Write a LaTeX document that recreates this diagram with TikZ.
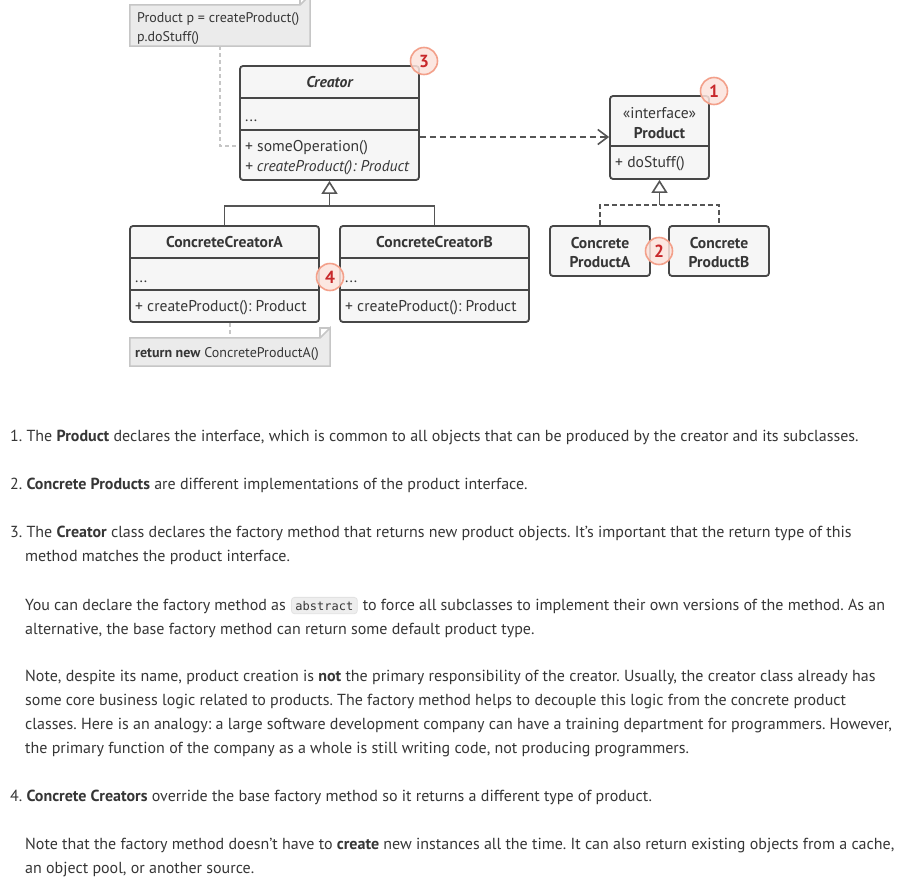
\documentclass[tikz,border=0pt]{standalone}
\usepackage{fontspec}
\setmainfont{PT Sans}
\newfontfamily\codefont{DejaVu Sans Mono}
\usetikzlibrary{arrows.meta,positioning}

\definecolor{ink}{HTML}{363636}
\definecolor{boxline}{HTML}{474747}
\definecolor{boxfill}{HTML}{F6F6F6}
\definecolor{linkgray}{HTML}{555555}
\definecolor{notefill}{HTML}{EBEBEB}
\definecolor{noteline}{HTML}{C6C6C6}
\definecolor{badgeline}{HTML}{F3A08A}
\definecolor{badgefill}{HTML}{FCE3DC}
\definecolor{badgetext}{HTML}{C8282B}
\definecolor{codefill}{HTML}{EEEEEE}
\definecolor{codeline}{HTML}{E2E2E2}

\begin{document}
\frenchspacing
\begin{tikzpicture}[x=1pt,y=-1pt,
  umlbox/.style={draw=boxline, fill=boxfill, line width=1.8pt, rounded corners=3pt, inner sep=0pt},
  divider/.style={draw=boxline, line width=1.8pt},
  lbl/.style={font=\fontsize{15.6}{18}\selectfont, text=ink, inner sep=0pt},
  lblbold/.style={lbl, font=\fontsize{15.6}{18}\selectfont\bfseries},
  notetxt/.style={font=\fontsize{14}{16}\selectfont, text=ink, inner sep=0pt},
  noteshape/.style={fill=notefill, draw=noteline, line width=1.5pt},
  notelink/.style={draw=noteline, line width=1.5pt, dash pattern=on 4pt off 3pt},
  depends/.style={draw=linkgray, line width=1.6pt, dash pattern=on 6pt off 4pt, -{Straight Barb[length=10pt,width=15pt,line width=1.6pt]}},
  extends/.style={draw=linkgray, line width=1.6pt, -{Triangle[open,length=13pt,width=16pt,line width=1.6pt,fill=white]}},
  realizes/.style={draw=linkgray, line width=1.6pt, dash pattern=on 5pt off 3pt},
  badge/.style={circle, minimum size=27pt, inner sep=0pt, draw=badgeline, line width=1.6pt, fill=badgefill, fill opacity=0.85, text opacity=1, text=badgetext, font=\fontsize{17.5}{17.5}\selectfont\bfseries},
  body/.style={font=\fontsize{16}{19}\selectfont, text=ink, inner sep=0pt, anchor=base west},
  codebox/.style={fill=codefill, draw=codeline, line width=0.8pt, rounded corners=3pt, inner xsep=4pt, inner ysep=3.5pt, font=\codefont\fontsize{12}{14}\selectfont, text=ink, anchor=base west}
]
\useasboundingbox (0,0) rectangle (909,878);
\fill[white] (0,0) rectangle (909,878);

% ---------- note above the creator ----------
\node[inner sep=0pt, minimum width=180pt, minimum height=41pt] (note1) at (220,25.5) {};
\path[noteshape] (note1.north west) -- ([xshift=-10pt]note1.north east) -- ([yshift=10pt]note1.north east)
  -- (note1.south east) -- (note1.south west) -- cycle;
\draw[draw=noteline, line width=1.5pt] ([xshift=-10pt]note1.north east) |- ([yshift=10pt]note1.north east);
\node[notetxt, anchor=base west] (note1a) at (137,22) {Product p = createProduct()};
\node[notetxt, anchor=base west] (note1b) at (137,41) {p.doStuff()};

% ---------- Creator ----------
\node[umlbox, minimum width=179pt, minimum height=114pt] (creator) at (329.5,123) {};
\draw[divider] (creator.west |- 0,98) -- (creator.east |- 0,98);
\draw[divider] (creator.west |- 0,130) -- (creator.east |- 0,130);
\node[lbl, anchor=base, font=\fontsize{15.6}{18}\selectfont\bfseries\itshape] (creatorT) at (329.5,87) {Creator};
\node[lbl, anchor=base west] (creatorA) at (245,121) {...};
\node[lbl, anchor=base west] (creatorM1) at (245,151) {+ someOperation()};
\node[lbl, anchor=base west] (creatorM2) at (245,171) {\itshape + createProduct(): Product};

\draw[notelink] (note1.south -| 220,0) |- (creator.west |- 0,146);

% ---------- Product ----------
\node[umlbox, minimum width=99pt, minimum height=83pt] (product) at (659.5,137.5) {};
\draw[divider] (product.west |- 0,146) -- (product.east |- 0,146);
\node[lbl, anchor=base] (productS) at (659.5,118) {«interface»};
\node[lblbold, anchor=base] (productT) at (659.5,138) {Product};
\node[lbl, anchor=base west] (productM) at (615,167) {+ doStuff()};

\draw[depends] (creator.east |- 0,137) -- (product.west |- 0,137);

% ---------- Concrete products ----------
\node[umlbox, minimum width=100pt, minimum height=50pt] (cpa) at (600,251) {};
\node[umlbox, minimum width=100pt, minimum height=50pt] (cpb) at (719,251) {};
\node[lblbold, anchor=base] (cpaT1) at (600,248) {Concrete};
\node[lblbold, anchor=base] (cpaT2) at (600,267) {ProductA};
\node[lblbold, anchor=base] (cpbT1) at (719,248) {Concrete};
\node[lblbold, anchor=base] (cpbT2) at (719,267) {ProductB};

\coordinate (pjoin) at (659.5,205);
\draw[realizes] (cpa.north) |- (pjoin) -| (cpb.north);
\draw[extends] (pjoin) -- (product.south);

% ---------- Concrete creators ----------
\node[umlbox, minimum width=189pt, minimum height=96pt] (cca) at (224.5,274) {};
\draw[divider] (cca.west |- 0,258) -- (cca.east |- 0,258);
\draw[divider] (cca.west |- 0,290) -- (cca.east |- 0,290);
\node[lblbold, anchor=base] (ccaT) at (224.5,247) {ConcreteCreatorA};
\node[lbl, anchor=base west] (ccaA) at (135,282) {...};
\node[lbl, anchor=base west] (ccaM) at (135,311) {+ createProduct(): Product};

\node[umlbox, minimum width=189pt, minimum height=96pt] (ccb) at (434.5,274) {};
\draw[divider] (ccb.west |- 0,258) -- (ccb.east |- 0,258);
\draw[divider] (ccb.west |- 0,290) -- (ccb.east |- 0,290);
\node[lblbold, anchor=base] (ccbT) at (434.5,247) {ConcreteCreatorB};
\node[lbl, anchor=base west] (ccbA) at (345,282) {...};
\node[lbl, anchor=base west] (ccbM) at (345,311) {+ createProduct(): Product};

\coordinate (cjoin) at (329.5,206);
\draw[draw=linkgray, line width=1.6pt] (cca.north) |- (cjoin) -| (ccb.north);
\draw[extends] (cjoin) -- (creator.south);

% ---------- note below ConcreteCreatorA ----------
\node[inner sep=0pt, minimum width=200pt, minimum height=28pt] (note2) at (230,352) {};
\path[noteshape] (note2.north west) -- ([xshift=-10pt]note2.north east) -- ([yshift=10pt]note2.north east)
  -- (note2.south east) -- (note2.south west) -- cycle;
\draw[draw=noteline, line width=1.5pt] ([xshift=-10pt]note2.north east) |- ([yshift=10pt]note2.north east);
\node[notetxt, anchor=base west] (note2a) at (135,357) {\textbf{return new} ConcreteProductA()};
\draw[notelink] (cca.south -| note2.north) -- (note2.north);

% ---------- numbered badges ----------
\node[badge] (b1) at (714,91) {1};
\node[badge] (b2) at (659,251) {2};
\node[badge] (b3) at (424,61) {3};
\node[badge] (b4) at (330,277) {4};

% ---------- explanation text ----------
\node[body] (t1) at (10,441) {1. The \textbf{Product} declares the interface, which is common to all objects that can be produced by the creator and its subclasses.};
\node[body] (t2) at (10,489) {2. \textbf{Concrete Products} are different implementations of the product interface.};
\node[body] (t3) at (10,537) {3. The \textbf{Creator} class declares the factory method that returns new product objects. It’s important that the return type of this};
\node[body] (t4) at (25,561) {method matches the product interface.};
\node[body] (t5) at (25,610) {You can declare the factory method as};
\node[codebox, right=5pt of t5.base east, anchor=base west] (t5c) {abstract};
\node[body, right=5pt of t5c.base east, anchor=base west] (t5b) {to force all subclasses to implement their own versions of the method. As an};
\node[body] (t6) at (25,634) {alternative, the base factory method can return some default product type.};
\node[body] (t7) at (25,681) {Note, despite its name, product creation is \textbf{not} the primary responsibility of the creator. Usually, the creator class already has};
\node[body] (t8) at (25,705) {some core business logic related to products. The factory method helps to decouple this logic from the concrete product};
\node[body] (t9) at (25,729) {classes. Here is an analogy: a large software development company can have a training department for programmers. However,};
\node[body] (t10) at (25,753) {the primary function of the company as a whole is still writing code, not producing programmers.};
\node[body] (t11) at (10,801) {4. \textbf{Concrete Creators} override the base factory method so it returns a different type of product.};
\node[body] (t12) at (25,849) {Note that the factory method doesn’t have to \textbf{create} new instances all the time. It can also return existing objects from a cache,};
\node[body] (t13) at (25,873) {an object pool, or another source.};
\end{tikzpicture}
\end{document}
